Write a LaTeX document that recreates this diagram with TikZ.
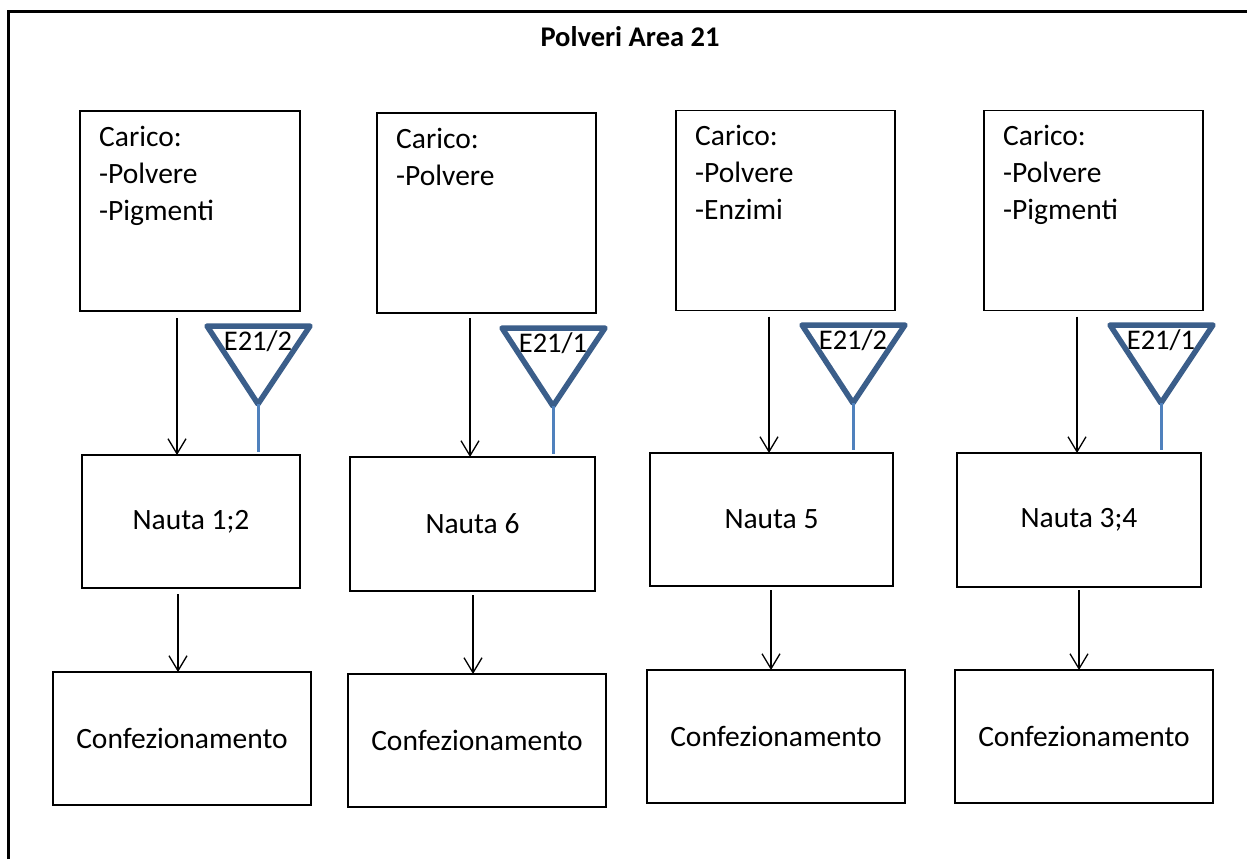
\documentclass[tikz,border=0pt]{standalone}
\usepackage{fontspec}
\setmainfont{Carlito}
\usetikzlibrary{arrows.meta,calc}
\definecolor{triedge}{RGB}{59,94,138}
\definecolor{feedline}{RGB}{79,129,189}
\begin{document}
\begin{tikzpicture}[x=1pt,y=-1pt,
  box/.style={draw,line width=1.4pt,outer sep=0pt,inner sep=0pt,
    font=\fontsize{29.5}{37}\selectfont},
  loadbox/.style={box,minimum width=220pt,minimum height=200pt},
  mixbox/.style={box,minimum width=244pt,minimum height=134pt},
  packbox/.style={box,minimum width=258pt,minimum height=133pt},
  loadtext/.style={anchor=base west,inner sep=0pt,font=\fontsize{29.5}{37}\selectfont},
  flow/.style={line width=1.3pt,-{Straight Barb[length=15pt,width=18pt,line width=1.3pt]}},
  tri/.style={draw=triedge,line width=5.5pt,line join=round},
  feed/.style={draw=feedline,line width=3pt},
  taglabel/.style={inner sep=0pt,font=\fontsize{28.5}{34}\selectfont},
]
\useasboundingbox (0,0) rectangle (1247,859);

% outer frame (top and left edges)
\draw[line width=3pt] (8,859) -- (8,12) -- (1247,12);

% title
\node[font=\bfseries\fontsize{28.5}{32}\selectfont] (title) at (630,37) {Polveri Area 21};

% loading boxes
\node[loadbox] (c1) at (190,211) {};
\node[loadbox,minimum width=219pt] (c2) at (486.5,213) {};
\node[loadbox,minimum width=219pt] (c3) at (785.5,210.5) {};
\node[loadbox,minimum width=219pt] (c4) at (1093.5,210.5) {};

\node[loadtext] (t1) at ($(c1.north west)+(19,35)$) {\parbox[t]{195pt}{Carico:\\-Polvere\\-Pigmenti}};
\node[loadtext] (t2) at ($(c2.north west)+(19,35)$) {\parbox[t]{195pt}{Carico:\\-Polvere}};
\node[loadtext] (t3) at ($(c3.north west)+(19,35)$) {\parbox[t]{195pt}{Carico:\\-Polvere\\-Enzimi}};
\node[loadtext] (t4) at ($(c4.north west)+(19,35)$) {\parbox[t]{195pt}{Carico:\\-Polvere\\-Pigmenti}};

% mixers
\node[mixbox,minimum width=218pt,minimum height=133pt] (n1) at (191,521.5) {Nauta 1;2};
\node[mixbox,minimum width=245pt] (n2) at (472.5,524) {Nauta 6};
\node[mixbox,minimum width=243pt,minimum height=133pt] (n3) at (771.5,519.5) {Nauta 5};
\node[mixbox] (n4) at (1079,520) {Nauta 3;4};

% packaging
\node[packbox] (f1) at (182,738.5) {Confezionamento};
\node[packbox] (f2) at (477,740.5) {Confezionamento};
\node[packbox] (f3) at (776,736.5) {Confezionamento};
\node[packbox] (f4) at (1084,736.5) {Confezionamento};

% loading -> mixer
\draw[flow] ([xshift=-13pt,yshift=-7pt]c1.south) -- ([xshift=-13pt]c1.south |- n1.north);
\draw[flow] ([xshift=-16.5pt,yshift=-5pt]c2.south) -- ([xshift=-16.5pt]c2.south |- n2.north);
\draw[flow] ([xshift=-16.5pt,yshift=-6pt]c3.south) -- ([xshift=-16.5pt]c3.south |- n3.north);
\draw[flow] ([xshift=-16.5pt,yshift=-6pt]c4.south) -- ([xshift=-16.5pt]c4.south |- n4.north);

% mixer -> packaging
\draw[flow] ([xshift=-13pt,yshift=-6pt]n1.south) -- ([xshift=-13pt]n1.south |- f1.north);
\draw[flow] ([xshift=0.5pt,yshift=-4pt]n2.south) -- ([xshift=0.5pt]n2.south |- f2.north);
\draw[flow] ([xshift=-0.5pt,yshift=-4pt]n3.south) -- ([xshift=-0.5pt]n3.south |- f3.north);
\draw[flow] ([yshift=-3pt]n4.south) -- (n4.south |- f4.north);

% extraction points (triangle apex coordinates)
\coordinate (a1) at (258,404);
\coordinate (a2) at (553,406);
\coordinate (a3) at (853,403);
\coordinate (a4) at (1161,403);

\foreach \i/\lab in {1/E21\slash 2,2/E21\slash 1,3/E21\slash 2,4/E21\slash 1}{
  \draw[tri] ($(a\i)+(-51,-78)$) -- ($(a\i)+(52,-78)$) -- (a\i) -- cycle;
  \draw[feed] (a\i) -- ([yshift=3pt]a\i |- n\i.north);
  \node[taglabel] (e\i) at ($(a\i)+(0,-63)$) {\lab};
}
\end{tikzpicture}
\end{document}
